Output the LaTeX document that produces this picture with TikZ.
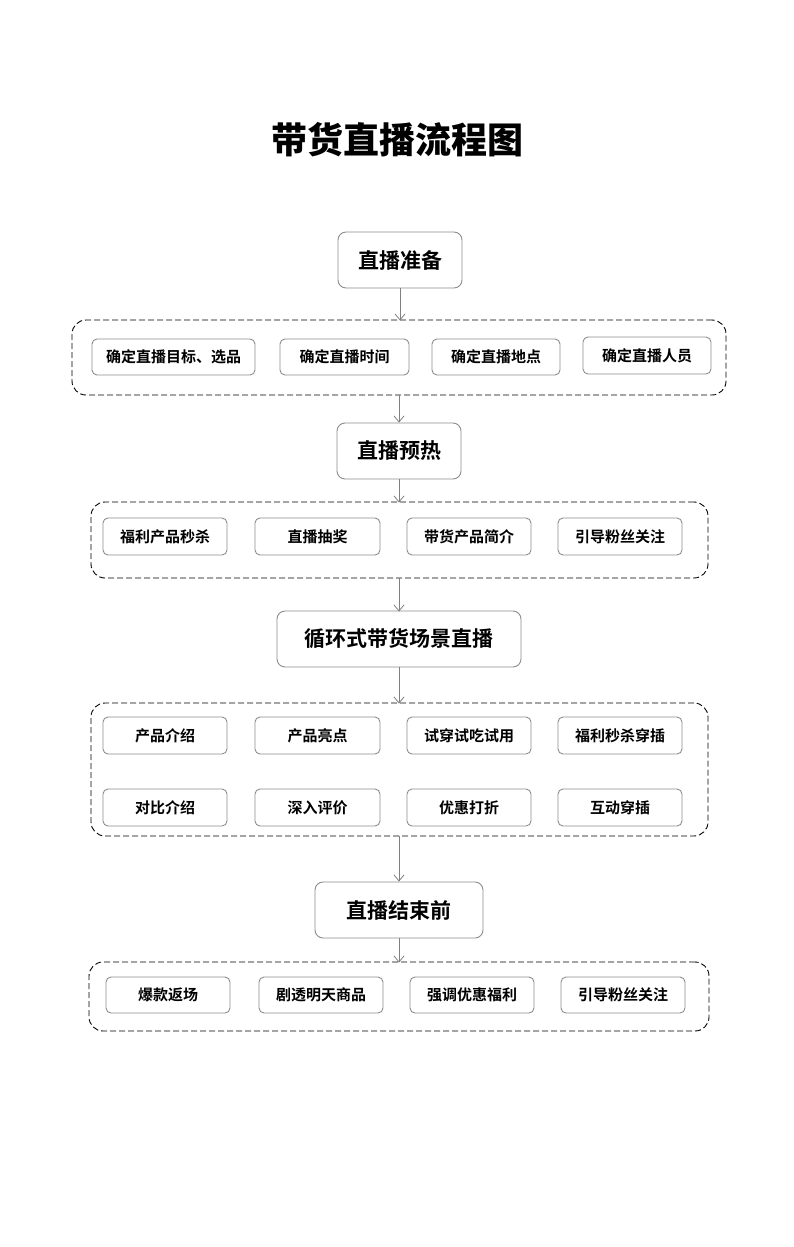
\documentclass[tikz,border=0pt]{standalone}
\usepackage{fontspec}
\setmainfont{Noto Sans CJK SC}
\newfontfamily\cjkb{Noto Sans CJK SC Bold}
\newfontfamily\cjkblack{Noto Sans CJK SC Black}
\usetikzlibrary{arrows.meta}
\begin{document}
\begin{tikzpicture}[x=1pt,y=-1pt,
  mainbox/.style={draw=gray!90,line width=0.9pt,rounded corners=8pt,font=\cjkb\fontsize{21}{23}\selectfont,inner sep=0pt},
  subbox/.style={draw=gray!90,line width=0.9pt,rounded corners=5pt,font=\cjkb\fontsize{15}{17}\selectfont,inner sep=0pt},
  groupbox/.style={draw=black,line width=0.9pt,dash pattern=on 6pt off 3pt,rounded corners=14pt},
  flow/.style={draw=gray,line width=0.8pt,-{Straight Barb[length=6pt,width=10pt]}}]
\useasboundingbox (0,0) rectangle (793,1247);
\node[font=\cjkblack\fontsize{36}{40}\selectfont] (title) at (397,140) {带货直播流程图};
% helper macro for boxes by corners
\newcommand{\bx}[6]{\node[#1,minimum width=#4-#2,minimum height=#5-#3] (#6) at ({(#2+#4)/2},{(#3+#5)/2})}
% stage 1
\bx{mainbox}{338}{232}{462}{288}{m1} {直播准备};
\bx{groupbox}{72}{320}{726}{395}{g1} {};
\bx{subbox}{92}{339}{255}{375}{a1} {确定直播目标、选品};
\bx{subbox}{280}{339}{409}{375}{a2} {确定直播时间};
\bx{subbox}{432}{339}{560}{375}{a3} {确定直播地点};
\bx{subbox}{583}{337}{711}{374}{a4} {确定直播人员};
% stage 2
\bx{mainbox}{337}{423}{461}{479}{m2} {直播预热};
\bx{groupbox}{91}{502}{708}{578}{g2} {};
\bx{subbox}{103}{518}{227}{555}{b1} {福利产品秒杀};
\bx{subbox}{255}{518}{380}{555}{b2} {直播抽奖};
\bx{subbox}{407}{518}{531}{555}{b3} {带货产品简介};
\bx{subbox}{558}{518}{682}{555}{b4} {引导粉丝关注};
% stage 3
\bx{mainbox}{277}{611}{521}{667}{m3} {循环式带货场景直播};
\bx{groupbox}{91}{703}{708}{836}{g3} {};
\bx{subbox}{103}{717}{227}{754}{c1} {产品介绍};
\bx{subbox}{255}{717}{380}{754}{c2} {产品亮点};
\bx{subbox}{407}{717}{531}{754}{c3} {试穿试吃试用};
\bx{subbox}{558}{717}{682}{754}{c4} {福利秒杀穿插};
\bx{subbox}{103}{789}{227}{826}{c5} {对比介绍};
\bx{subbox}{255}{789}{380}{826}{c6} {深入评价};
\bx{subbox}{407}{789}{531}{826}{c7} {优惠打折};
\bx{subbox}{558}{789}{682}{826}{c8} {互动穿插};
% stage 4
\bx{mainbox}{315}{882}{483}{938}{m4} {直播结束前};
\bx{groupbox}{89}{962}{709}{1031}{g4} {};
\bx{subbox}{106}{977}{230}{1013}{d1} {爆款返场};
\bx{subbox}{259}{977}{383}{1013}{d2} {剧透明天商品};
\bx{subbox}{410}{977}{534}{1013}{d3} {强调优惠福利};
\bx{subbox}{561}{977}{685}{1013}{d4} {引导粉丝关注};
% connectors
\draw[flow] (m1.south) -- ([yshift=-1pt]m1.south |- g1.north);
\draw[flow] (g1.south -| m2.north) -- (m2.north);
\draw[flow] (m2.south) -- ([yshift=-1pt]m2.south |- g2.north);
\draw[flow] (g2.south -| m2.north) -- ([yshift=-1pt]m2.north |- m3.north);
\draw[flow] (m3.south) -- ([yshift=-1pt]m3.south |- g3.north);
\draw[flow] (g3.south -| m3.south) -- (m3.south |- m4.north);
\draw[flow] (m4.south) -- ([yshift=-1pt]m4.south |- g4.north);
\end{tikzpicture}
\end{document}
